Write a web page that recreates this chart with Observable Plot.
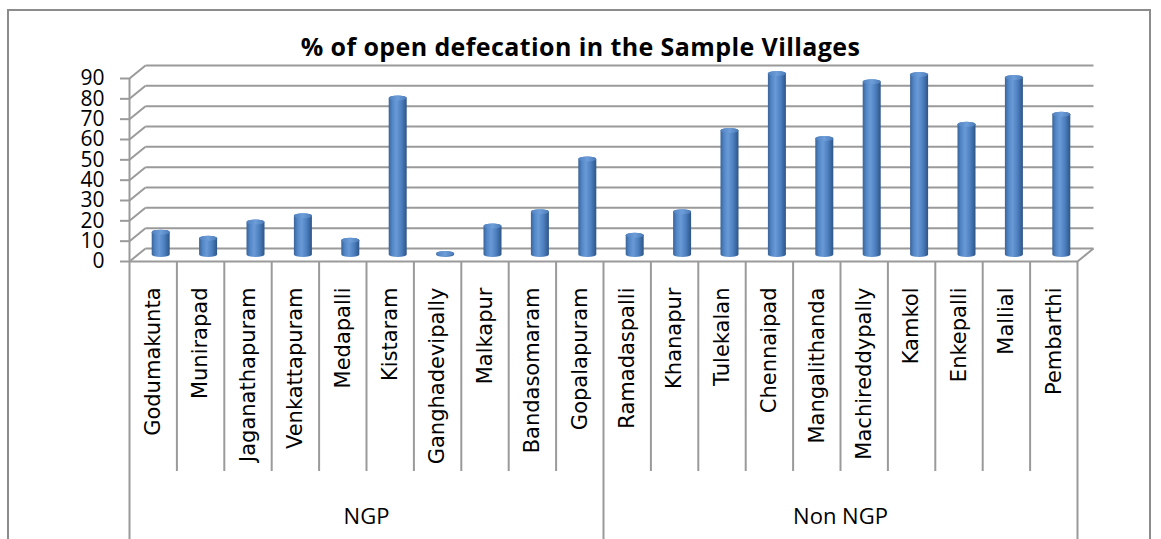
<!DOCTYPE html>
<html>
<head>
<meta charset="utf-8">
<script src="https://cdn.jsdelivr.net/npm/d3@7"></script>
<script src="https://cdn.jsdelivr.net/npm/@observablehq/plot@0.6"></script>
<style>
  html, body { margin: 0; padding: 0; background: #fff; width: 1161px; height: 539px; overflow: hidden; }
  #frame { position: absolute; left: 7px; top: 9px; width: 1144px; height: 600px; border: 2px solid #8c8c8c; box-sizing: border-box; }
  #title { position: absolute; left: 0; top: 30px; width: 1161px; text-align: center; font-family: "Open Sans", sans-serif; font-weight: 700; font-size: 25px; line-height: 32px; color: #000; letter-spacing: 0.4px; }
  #chart { position: absolute; left: 0; top: 60px; }
</style>
</head>
<body>
<div id="frame"></div>
<div id="title">% of open defecation in the Sample Villages</div>
<div id="chart"></div>
<script>
// ---- data ----
const villages = ["Godumakunta","Munirapad","Jaganathapuram","Venkattapuram","Medapalli","Kistaram","Ganghadevipally","Malkapur","Bandasomaram","Gopalapuram","Ramadaspalli","Khanapur","Tulekalan","Chennaipad","Mangalithanda","Machireddypally","Kamkol","Enkepalli","Mallial","Pembarthi"];
const groups = ["NGP","Non NGP"];
const groupSizes = [10, 10];
const values = [11, 8, 16, 19, 7, 77, 0.5, 14, 21, 47, 9.5, 21, 61, 89, 57, 85, 88.5, 64, 87, 69];
const yTicks = [0,10,20,30,40,50,60,70,80,90];

// ---- layout (pixels) ----
const W = 1161, H = 479;
const mL = 129, mR = 84, mT = 18, mB = 278;
const pxX = (W - mL - mR) / villages.length;   // px per category
const pxY = (H - mT - mB) / 90;                 // px per unit
const DX = 16 / pxX, DY = 13 / pxY;             // 3D depth in data units
const HW = 9 / pxX;                             // half bar width
const tableBottom = -(411 - (H - mB)) / pxY;
const frameBottom = -(H + 5 - (H - mB)) / pxY;

const groupStart = groupSizes.map((s, i) => groupSizes.slice(0, i).reduce((a, b) => a + b, 0));
const rows = villages.map((name, i) => ({name, i, value: values[i]}));
const gridColor = "#9a9a9a";
const innerSeps = d3.range(1, villages.length).filter(k => !groupStart.includes(k));
const groupSeps = [...groupStart, villages.length];

const chart = Plot.plot({
  width: W, height: H,
  marginLeft: mL, marginRight: mR, marginTop: mT, marginBottom: mB,
  x: {domain: [0, villages.length], axis: null},
  y: {domain: [0, 90], axis: null},
  style: {fontFamily: "Open Sans", fontSize: "21px", background: "transparent", overflow: "visible"},
  marks: [
    // back wall gridlines
    Plot.link(yTicks, {x1: DX, x2: villages.length + DX, y1: v => v + DY, y2: v => v + DY, stroke: gridColor, strokeWidth: 2}),
    // side wall slants
    Plot.link(yTicks, {x1: 0, y1: v => v, x2: DX, y2: v => v + DY, stroke: gridColor, strokeWidth: 2}),
    // floor right edge
    Plot.link([0], {x1: villages.length, y1: 0, x2: villages.length + DX, y2: DY, stroke: gridColor, strokeWidth: 2}),
    // front vertical axis
    Plot.ruleX([0], {y1: 0, y2: 90, stroke: gridColor, strokeWidth: 2}),
    Plot.axisY({ticks: yTicks, tickSize: 9, tickPadding: 16, fontSize: 21, stroke: gridColor, strokeWidth: 2, fill: "#000", label: null}),
    // category table
    Plot.ruleY([0], {x1: 0, x2: villages.length, stroke: gridColor, strokeWidth: 2}),
    Plot.ruleX(innerSeps, {x: d => d, y1: 0, y2: tableBottom, stroke: gridColor, strokeWidth: 2}),
    Plot.ruleX(groupSeps, {x: d => d, y1: 0, y2: frameBottom, stroke: gridColor, strokeWidth: 2}),
    // cylinder bars
    Plot.rect(rows, {x1: d => d.i + 0.5 + DX / 2 - HW, x2: d => d.i + 0.5 + DX / 2 + HW,
      y1: DY / 2, y2: d => d.value + DY / 2, insetTop: -2.5, insetBottom: -2.5,
      rx: 9, ry: 2.5, fill: "url(#cyl)"}),
    Plot.rect(rows, {x1: d => d.i + 0.5 + DX / 2 - HW, x2: d => d.i + 0.5 + DX / 2 + HW,
      y1: d => d.value + DY / 2, y2: d => d.value + DY / 2, insetTop: -2.5, insetBottom: -2.5,
      rx: 9, ry: 2.5, fill: "url(#cap)"}),
    // category labels
    Plot.text(rows, {x: d => d.i + 0.5, y: 0, text: "name", rotate: -90, textAnchor: "end", lineAnchor: "middle",
      dy: 26, fontSize: 21, fontFamily: "DejaVu Sans", fill: "#000"}),
    // group labels
    Plot.text(groups, {x: (g, k) => groupStart[k] + groupSizes[k] / 2, y: 0, text: d => d, dy: 255, fontSize: 22, fill: "#000"})
  ]
});

const svg = d3.select(chart);
const defs = svg.insert("defs", ":first-child");
const g1 = defs.append("linearGradient").attr("id", "cyl").attr("x1", 0).attr("x2", 1).attr("y1", 0).attr("y2", 0);
[["0%", "#3a6399"], ["20%", "#5287c7"], ["42%", "#6a9ad6"], ["70%", "#4d80c0"], ["100%", "#2e5586"]]
  .forEach(([o, c]) => g1.append("stop").attr("offset", o).attr("stop-color", c));
const g2 = defs.append("linearGradient").attr("id", "cap").attr("x1", 0).attr("x2", 1).attr("y1", 0).attr("y2", 0);
[["0%", "#4f80bf"], ["50%", "#6e9ed9"], ["100%", "#4a7bb9"]]
  .forEach(([o, c]) => g2.append("stop").attr("offset", o).attr("stop-color", c));

document.getElementById("chart").appendChild(chart);
</script>
</body>
</html>
